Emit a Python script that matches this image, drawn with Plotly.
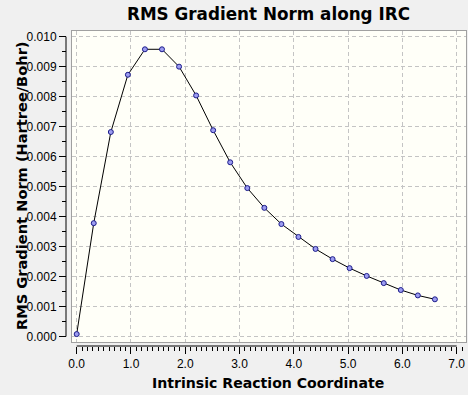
import plotly.graph_objects as go

# Data
irc = [0.0, 0.314, 0.629, 0.943, 1.257, 1.571, 1.886, 2.200, 2.514, 2.828, 3.143,
       3.457, 3.771, 4.085, 4.400, 4.714, 5.028, 5.342, 5.657, 5.971, 6.285, 6.599]
rms_grad = [0.00008, 0.00378, 0.00682, 0.00873, 0.00958, 0.00958, 0.00900, 0.00804,
            0.00688, 0.00581, 0.00495, 0.00429, 0.00375, 0.00332, 0.00292, 0.00258,
            0.00228, 0.00202, 0.00178, 0.00155, 0.00137, 0.00124]
x_ticks = [0, 1, 2, 3, 4, 5, 6, 7]
x_tick_labels = ["0.0", "1.0", "2.0", "3.0", "4.0", "5.0", "6.0", "7.0"]
y_ticks = [0.000, 0.001, 0.002, 0.003, 0.004, 0.005, 0.006, 0.007, 0.008, 0.009, 0.010]
y_tick_labels = ["%.3f" % v for v in y_ticks]

W, H = 468, 395
ML, MR, MT, MB = 66, 2, 31, 49
PW, PH = W - ML - MR, H - MT - MB
box_left_px, box_bottom_px = 71.7, 342
x_dom0 = (box_left_px - ML) / PW
y_dom0 = ((H - MB) - box_bottom_px) / PH

x_range = [-0.0921, 7.172]
y_range = [-0.000184, 0.01019]

FONT = "Liberation Sans, Arial, sans-serif"
BFONT = "DejaVu Sans, Verdana, sans-serif"

fig = go.Figure()
# invisible copy on the offset tick axes so they get drawn
fig.add_trace(go.Scatter(
    x=irc, y=rms_grad, xaxis="x2", yaxis="y2", mode="markers",
    marker=dict(size=1, opacity=0), showlegend=False, hoverinfo="skip",
))
fig.add_trace(go.Scatter(
    x=irc, y=rms_grad, mode="lines+markers",
    line=dict(color="black", width=1),
    marker=dict(size=5, color="#9c9cf0", line=dict(color="#1c1c8a", width=1)),
    showlegend=False, hoverinfo="x+y",
))

grid = dict(showgrid=True, gridcolor="#c4c4c4", griddash="4px,3px", gridwidth=1)

def px_x(p):
    return (p - ML) / PW

def px_y(p):
    return (H - MB - p) / PH

fig.update_layout(
    width=W, height=H,
    margin=dict(l=ML, r=MR, t=MT, b=MB, pad=0),
    paper_bgcolor="#f0f0f0",
    plot_bgcolor="#fffff8",
    font=dict(family=FONT, size=12, color="black"),
    xaxis=dict(domain=[x_dom0, 1], range=x_range, tickvals=x_ticks, ticks="",
               showticklabels=False, showline=True, mirror=True, linecolor="#a0a0a0",
               linewidth=1, zeroline=False, **grid),
    yaxis=dict(domain=[y_dom0, 1], range=y_range, tickvals=y_ticks, ticks="",
               showticklabels=False, showline=True, mirror=True, linecolor="#a0a0a0",
               linewidth=1, zeroline=False, **grid),
    xaxis2=dict(overlaying="x", anchor="free", position=0, side="bottom",
                range=x_range, tickvals=x_ticks, ticktext=x_tick_labels,
                ticks="outside", ticklen=7, tickcolor="black", tickwidth=1,
                minor=dict(ticks="outside", ticklen=4, dtick=0.1, tick0=0,
                           tickcolor="black", showgrid=False),
                showgrid=False, zeroline=False, showline=False,
                tickfont=dict(size=12, family=FONT)),
    yaxis2=dict(overlaying="y", anchor="free", position=0, side="left",
                range=y_range, tickvals=y_ticks, ticktext=y_tick_labels,
                ticks="outside", ticklen=7, tickcolor="black", tickwidth=1,
                minor=dict(ticks="outside", ticklen=4, dtick=0.0005, tick0=0,
                           tickcolor="black", showgrid=False),
                showgrid=False, zeroline=False, showline=False,
                tickfont=dict(size=12, family=FONT)),
)

# Titles as annotations for exact placement
fig.add_annotation(text="<b>RMS Gradient Norm along IRC</b>", xref="paper", yref="paper",
                   x=px_x(268.5), y=px_y(14), xanchor="center", yanchor="middle",
                   showarrow=False, font=dict(size=16.8, family=BFONT, color="black"))
fig.add_annotation(text="<b>Intrinsic Reaction Coordinate</b>", xref="paper", yref="paper",
                   x=px_x(268), y=px_y(383), xanchor="center", yanchor="middle",
                   showarrow=False, font=dict(size=14.1, family=BFONT, color="black"))
fig.add_annotation(text="<b>RMS Gradient Norm (Hartree/Bohr)</b>", xref="paper", yref="paper",
                   x=px_x(21), y=px_y(186), xanchor="center", yanchor="middle",
                   textangle=-90, showarrow=False,
                   font=dict(size=14.6, family=BFONT, color="black"))

# Offset axis lines spanning only the data range
fig.add_shape(type="line", xref="x", yref="paper", x0=x_ticks[0], x1=x_ticks[-1],
              y0=0, y1=0, line=dict(color="black", width=1))
fig.add_shape(type="line", xref="paper", yref="y", x0=0, x1=0,
              y0=y_ticks[0], y1=y_ticks[-1], line=dict(color="black", width=1))

fig.write_html("out.html", config={"displayModeBar": False},
               post_script="document.body.style.margin='0px';")
